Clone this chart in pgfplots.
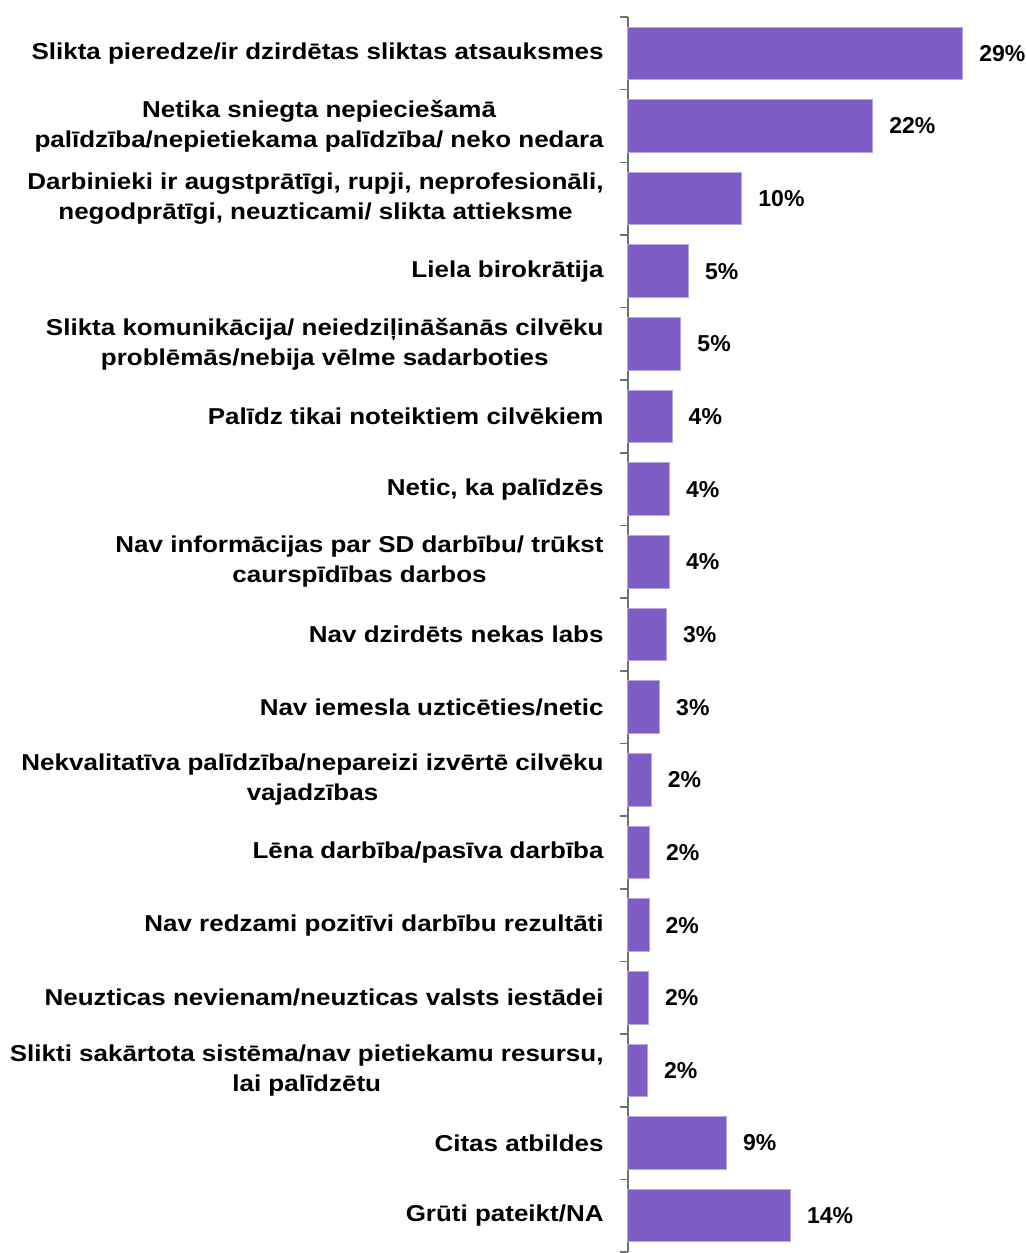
\documentclass[border=0pt]{standalone}
\usepackage{fontspec}
\setmainfont{Liberation Sans}
\newfontfamily\labfont{Liberation Sans}[FakeStretch=1.13]
\usepackage{pgfplots}
\usepackage{pgfplotstable}
\pgfplotsset{compat=1.18}
\definecolor{barfill}{HTML}{7D5CC3}
\definecolor{baredge}{HTML}{B8A6E2}
\definecolor{axgray}{HTML}{707070}
\pgfplotstableread{
y x lab
0 29.44 29
1 21.53 22
2 10.02 10
3 5.33 5
4 4.66 5
5 3.89 4
6 3.66 4
7 3.66 4
8 3.40 3
9 2.79 3
10 2.05 2
11 1.91 2
12 1.85 2
13 1.82 2
14 1.73 2
15 8.67 9
16 14.30 14
}\datatable
\begin{document}
\begin{tikzpicture}
\begin{axis}[
  scale only axis,
  width=199pt, height=617.5pt,
  xbar, bar width=26.3pt,
  xmin=0, xmax=35,
  ymin=-0.5, ymax=16.5,
  y dir=reverse,
  axis x line=none,
  axis y line*=left,
  y axis line style={axgray, line width=0.8pt},
  ytick={0,...,16},
  minor ytick={-0.5,0.5,...,16.5},
  major tick length=0pt,
  minor tick length=4pt,
  tick align=outside,
  ytick pos=left,
  minor tick style={axgray, line width=0.8pt},
  yticklabels={
    {Slikta pieredze/ir dzirdētas sliktas atsauksmes},
    {Netika sniegta nepieciešamā\\palīdzība/nepietiekama palīdzība/ neko nedara},
    {Darbinieki ir augstprātīgi, rupji, neprofesionāli,\\negodprātīgi, neuzticami/ slikta attieksme},
    {Liela birokrātija},
    {Slikta komunikācija/ neiedziļināšanās cilvēku\\problēmās/nebija vēlme sadarboties},
    {Palīdz tikai noteiktiem cilvēkiem},
    {Netic, ka palīdzēs},
    {Nav informācijas par SD darbību/ trūkst\\caurspīdības darbos},
    {Nav dzirdēts nekas labs},
    {Nav iemesla uzticēties/netic},
    {Nekvalitatīva palīdzība/nepareizi izvērtē cilvēku\\vajadzības},
    {Lēna darbība/pasīva darbība},
    {Nav redzami pozitīvi darbību rezultāti},
    {Neuzticas nevienam/neuzticas valsts iestādei},
    {Slikti sakārtota sistēma/nav pietiekamu resursu,\\lai palīdzētu},
    {Citas atbildes},
    {Grūti pateikt/NA}
  },
  yticklabel style={align=center, anchor=east, inner sep=0pt, xshift=-12pt,
    font=\labfont\bfseries\fontsize{11.5}{15}\selectfont},
  point meta=explicit symbolic,
  nodes near coords={\pgfplotspointmeta\%},
  every node near coord/.append style={anchor=west, inner sep=0pt, xshift=8pt,
    font=\bfseries\fontsize{11.5}{13}\selectfont, text=black},
  clip=false,
]
\addplot[fill=barfill, draw=baredge, line width=0.5pt] table[x=x, y=y, meta=lab] {\datatable};
\coordinate (bl) at (rel axis cs:0,0);
\coordinate (tr) at (rel axis cs:1,1);
\end{axis}
\pgfresetboundingbox
\path[use as bounding box] ([xshift=-314pt,yshift=-0.5pt]bl) rectangle ([yshift=8.5pt]tr);
\end{tikzpicture}
\end{document}
